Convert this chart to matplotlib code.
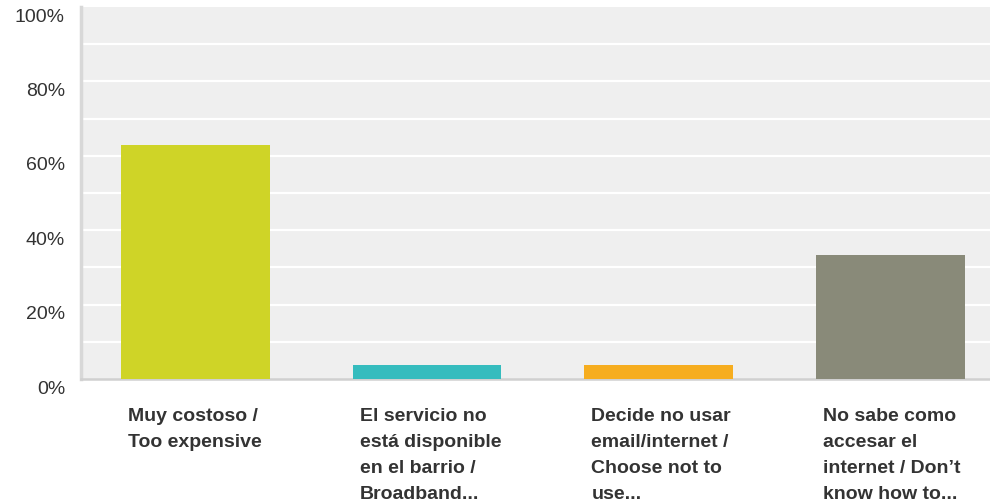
import matplotlib.pyplot as plt
import matplotlib.transforms as mtransforms
import numpy as np

categories = ["Muy costoso /\nToo expensive",
              "El servicio no\nestá disponible\nen el barrio /\nBroadband...",
              "Decide no usar\nemail/internet /\nChoose not to\nuse...",
              "No sabe como\naccesar el\ninternet / Don\u2019t\nknow how to..."]
values = [62.96, 3.70, 3.70, 33.33]
colors = ["#cfd427", "#35bcbe", "#f6ad1f", "#898a79"]
yticks = [0, 20, 40, 60, 80, 100]
ytick_labels = ["0%", "20%", "40%", "60%", "80%", "100%"]

plt.rcParams['font.family'] = ['Liberation Sans', 'DejaVu Sans']

fig = plt.figure(figsize=(9.9, 5.04), dpi=100)
ax = fig.add_axes([81 / 990, 1 - 379 / 504, 1 - 81 / 990, 372 / 504])
ax.set_facecolor("#efefef")

x = np.arange(len(categories))
bw = 0.642
ax.bar(x, values, width=bw, color=colors, zorder=3)

ax.set_xlim(-0.4935, 3.429)
ax.set_ylim(0, 100)

# gridlines every 10%
for g in range(10, 100, 10):
    ax.axhline(g, color="white", lw=1.6, zorder=1)

for s in ["top", "right"]:
    ax.spines[s].set_visible(False)
ax.spines["left"].set_color("#d8d8d8")
ax.spines["left"].set_linewidth(2.5)
ax.spines["bottom"].set_color("#d0d0d0")
ax.spines["bottom"].set_linewidth(1.8)
ax.set_xticks([])
ax.set_yticks([])

# y tick labels, sitting a little below their lines
off = mtransforms.ScaledTranslation(-16 / 100, -10 / 100, fig.dpi_scale_trans)
ytr = ax.get_yaxis_transform() + off
for v, lab in zip(yticks, ytick_labels):
    ax.text(0, v, lab, transform=ytr, ha="right", va="center",
            fontsize=14, color="#333333")

# category labels under bars
xoff = mtransforms.ScaledTranslation(7 / 100, -29 / 100, fig.dpi_scale_trans)
xtr = ax.get_xaxis_transform() + xoff
for xi, lab in zip(x, categories):
    ax.text(xi - bw / 2, 0, lab, transform=xtr, ha="left", va="top",
            fontsize=14, fontweight="bold", color="#333333", linespacing=1.68)

fig.savefig("out.png", dpi=100)
